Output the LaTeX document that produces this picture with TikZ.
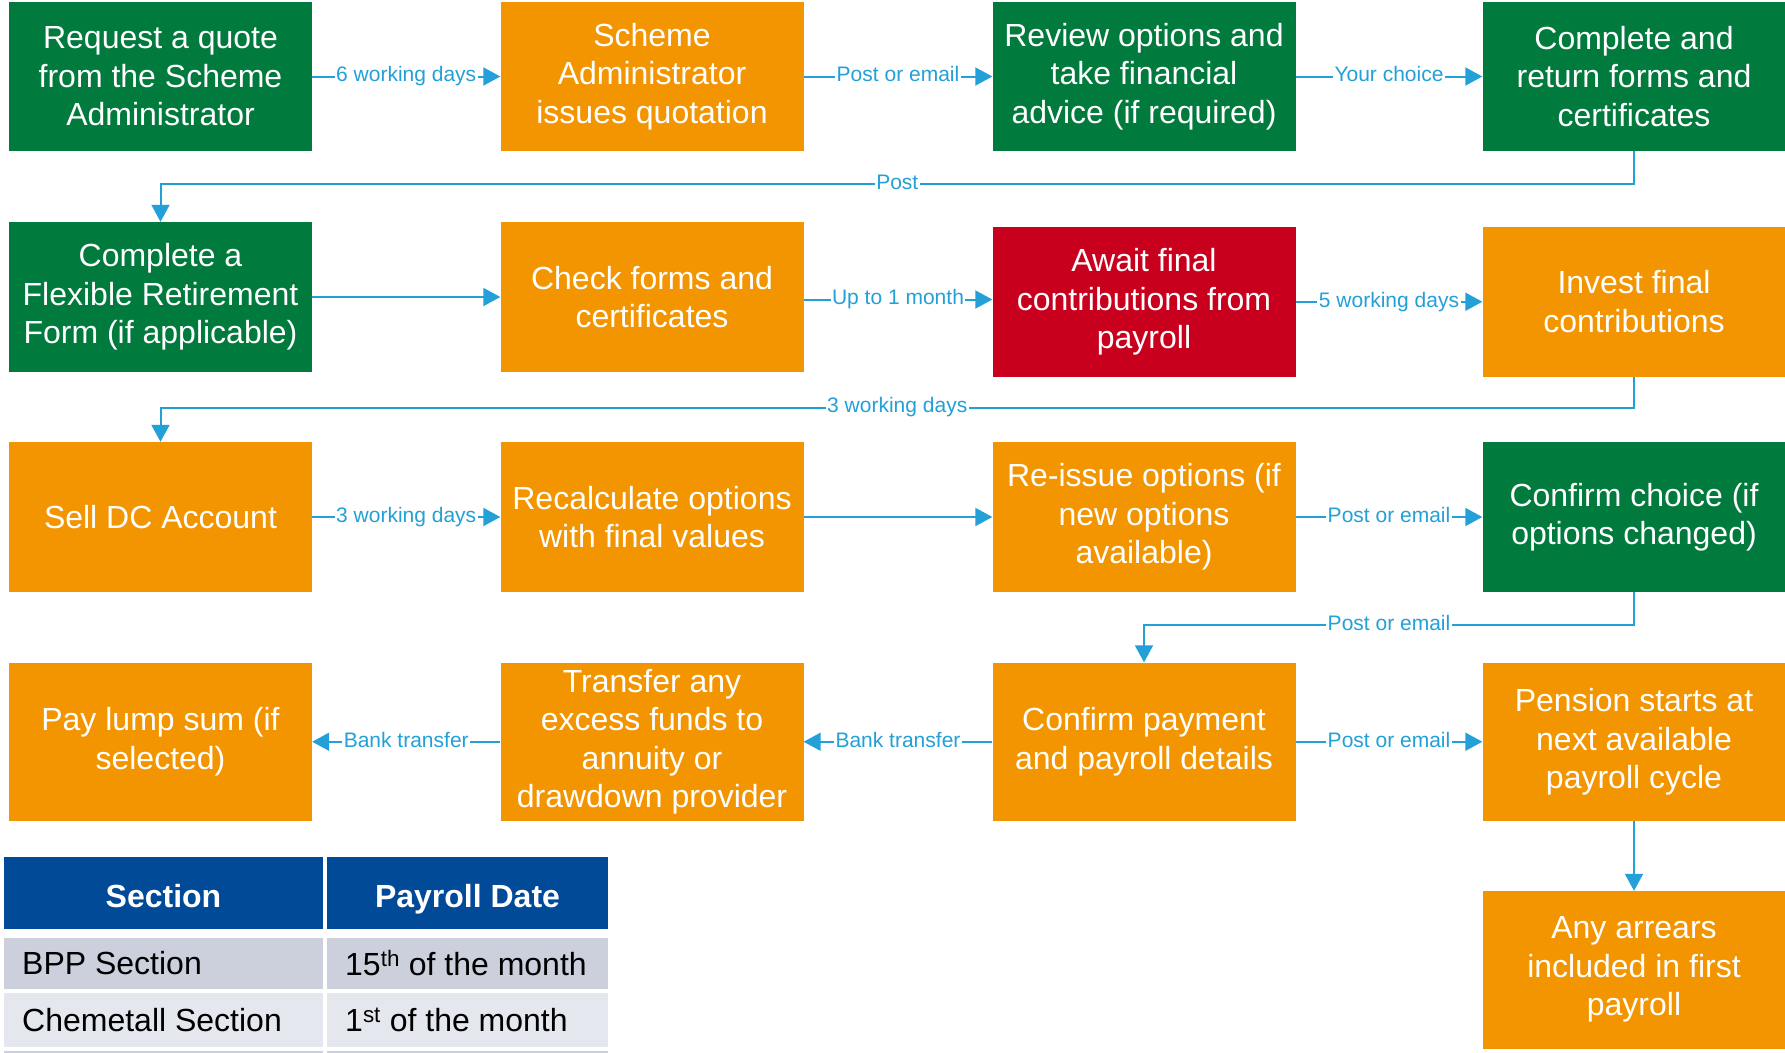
\documentclass[tikz,border=0pt]{standalone}
\usepackage{fontspec}
\setmainfont{Liberation Sans}
\usetikzlibrary{arrows.meta,calc}
\definecolor{cgreen}{RGB}{0,122,61}
\definecolor{corange}{RGB}{243,149,0}
\definecolor{cred}{RGB}{200,0,30}
\definecolor{cblue}{RGB}{35,160,215}
\definecolor{thead}{RGB}{0,74,152}
\definecolor{trowa}{RGB}{203,208,220}
\definecolor{trowb}{RGB}{229,231,238}
\begin{document}
\begin{tikzpicture}[x=1pt,y=-1pt,
  box/.style={rectangle, minimum width=303pt, inner sep=0pt, text=white, align=center,
    font=\fontsize{32}{38.5}\selectfont},
  gbox/.style={box, fill=cgreen},
  obox/.style={box, fill=corange},
  rbox/.style={box, fill=cred},
  conn/.style={draw=cblue, line width=2pt, -{Triangle[length=17pt,width=18pt]}},
  lbl/.style={fill=white, text=cblue, inner sep=1.5pt, text height=15pt, text depth=4.5pt,
    font=\fontsize{21}{24}\selectfont},
  hcell/.style={rectangle, fill=thead, inner sep=0pt},
  htext/.style={anchor=base, inner sep=0pt, text=white, font=\fontsize{32}{38}\selectfont\bfseries},
  tcell/.style={rectangle, inner sep=0pt},
  ttext/.style={anchor=west, inner sep=0pt, font=\fontsize{32}{38}\selectfont}
]
\useasboundingbox (0,0) rectangle (1785,1052);

% Row 1
\node[gbox, minimum height=149pt] (a1) at (160.5,76.5) {Request a quote\\from the Scheme\\Administrator};
\node[obox, minimum height=149pt] (a2) at (652,76.5) {Scheme\\Administrator\\issues quotation};
\node[gbox, minimum height=149pt] (a3) at (1144,76.5) {Review options and\\take financial\\advice (if required)};
\node[gbox, minimum height=149pt] (a4) at (1634,76.5) {Complete and\\return forms and\\certificates};

% Row 2
\node[gbox, minimum height=150pt] (b1) at (160.5,297) {Complete a\\Flexible Retirement\\Form (if applicable)};
\node[obox, minimum height=150pt] (b2) at (652,297) {Check forms and\\certificates};
\node[rbox, minimum height=150.5pt] (b3) at (1144,301.75) {Await final\\contributions from\\payroll};
\node[obox, minimum height=150.5pt] (b4) at (1634,301.75) {Invest final\\contributions};

% Row 3
\node[obox, minimum height=150pt] (c1) at (160.5,517) {Sell DC Account};
\node[obox, minimum height=150pt] (c2) at (652,517) {Recalculate options\\with final values};
\node[obox, minimum height=150pt] (c3) at (1144,517) {Re-issue options (if\\new options\\available)};
\node[gbox, minimum height=150pt] (c4) at (1634,517) {Confirm choice (if\\options changed)};

% Row 4
\node[obox, minimum height=158.5pt] (d1) at (160.5,741.75) {Pay lump sum (if\\selected)};
\node[obox, minimum height=158.5pt] (d2) at (652,741.75) {Transfer any\\excess funds to\\annuity or\\drawdown provider};
\node[obox, minimum height=158.5pt] (d3) at (1144,741.75) {Confirm payment\\and payroll details};
\node[obox, minimum height=158.5pt] (d4) at (1634,741.75) {Pension starts at\\next available\\payroll cycle};

% Row 5
\node[obox, minimum height=157.5pt] (e4) at (1634,969.75) {Any arrears\\included in first\\payroll};

% elbow levels
\coordinate (k1) at (0,184);
\coordinate (k2) at (0,407.5);
\coordinate (k3) at (0,625);
\coordinate (k4) at (0,299.5);

% Connectors
\draw[conn] (a1.east) -- node[lbl]{6 working days} (a2.west);
\draw[conn] (a2.east) -- node[lbl]{Post or email} (a3.west);
\draw[conn] (a3.east) -- node[lbl]{Your choice} (a4.west);
\draw[conn] (a4.south) -- (a4.south |- k1) -- node[lbl]{Post} (b1.north |- k1) -- (b1.north);

\draw[conn] (b1.east) -- (b2.west);
\draw[conn] (b2.east |- k4) -- node[lbl]{Up to 1 month} (b3.west |- k4);
\draw[conn] (b3.east) -- node[lbl]{5 working days} (b4.west);
\draw[conn] (b4.south) -- (b4.south |- k2) -- node[lbl]{3 working days} (c1.north |- k2) -- (c1.north);

\draw[conn] (c1.east) -- node[lbl]{3 working days} (c2.west);
\draw[conn] (c2.east) -- (c3.west);
\draw[conn] (c3.east) -- node[lbl]{Post or email} (c4.west);
\draw[conn] (c4.south) -- (c4.south |- k3) -- node[lbl]{Post or email} (d3.north |- k3) -- (d3.north);

\draw[conn] (d3.west) -- node[lbl]{Bank transfer} (d2.east);
\draw[conn] (d2.west) -- node[lbl]{Bank transfer} (d1.east);
\draw[conn] (d3.east) -- node[lbl]{Post or email} (d4.west);
\draw[conn] (d4.south) -- (e4.north);

% Table
\node[hcell, minimum width=319pt, minimum height=72pt] (h1) at (163.5,893) {};
\node[hcell, minimum width=281pt, minimum height=72pt] (h2) at (467.5,893) {};
\node[htext] (h1t) at (163.5,907.5) {Section};
\node[htext] (h2t) at (467.5,907.5) {Payroll Date};
\node[tcell, fill=trowa, minimum width=319pt, minimum height=51pt] (r11) at (163.5,963.5) {};
\node[tcell, fill=trowa, minimum width=281pt, minimum height=51pt] (r12) at (467.5,963.5) {};
\node[tcell, fill=trowb, minimum width=319pt, minimum height=54pt] (r21) at (163.5,1020) {};
\node[tcell, fill=trowb, minimum width=281pt, minimum height=54pt] (r22) at (467.5,1020) {};
\fill[trowa] (4,1051) rectangle (323,1053);
\fill[trowa] (327,1051) rectangle (608,1053);
\node[ttext] (t11) at (22,963.5) {BPP Section};
\node[ttext] (t12) at (345,963.5) {15\textsuperscript{th} of the month};
\node[ttext] (t21) at (22,1020) {Chemetall Section};
\node[ttext] (t22) at (345,1020) {1\textsuperscript{st} of the month};
\end{tikzpicture}
\end{document}
